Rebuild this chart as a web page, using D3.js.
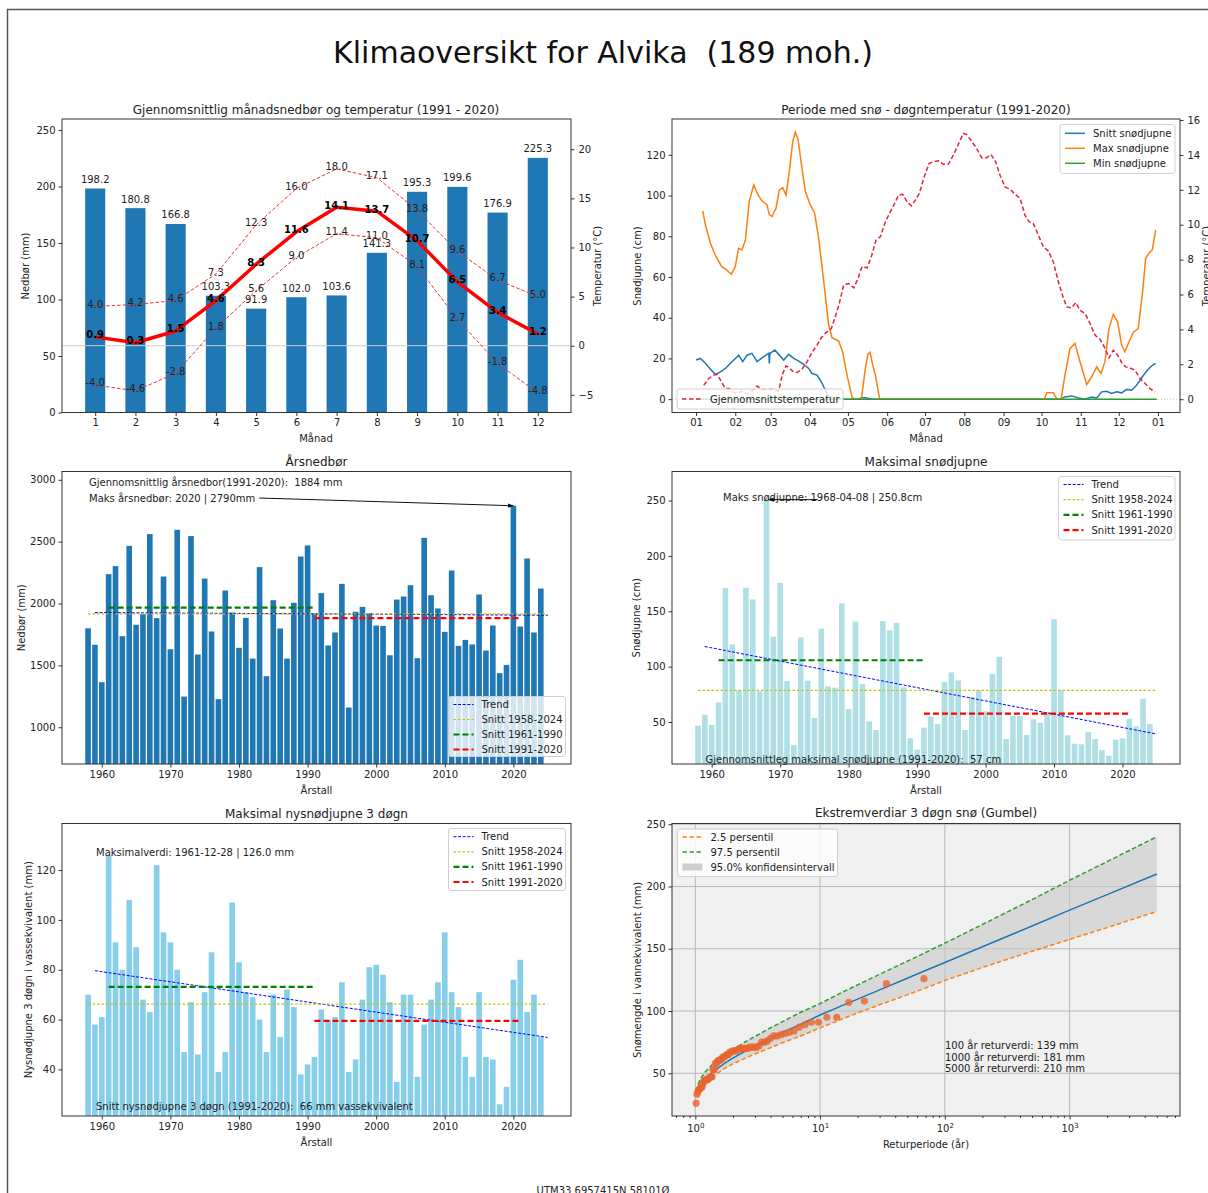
<!DOCTYPE html>
<html>
<head>
<meta charset="utf-8">
<script src="https://cdn.jsdelivr.net/npm/d3@7"></script>
<style>
  body { margin: 0; background: #fff; }
  text { font-family: "DejaVu Sans", sans-serif; white-space: pre; }
</style>
</head>
<body>
<svg id="fig" width="1208" height="1193"></svg>
<script>
// ---- data ----
const months = [1, 2, 3, 4, 5, 6, 7, 8, 9, 10, 11, 12];
const monthPrecip = [198.2, 180.8, 166.8, 103.3, 91.9, 102.0, 103.6, 141.3, 195.3, 199.6, 176.9, 225.3];
const monthTempMean = [0.9, 0.3, 1.5, 4.6, 8.3, 11.6, 14.1, 13.7, 10.7, 6.5, 3.4, 1.2];
const monthTempMax = [4.0, 4.2, 4.6, 7.3, 12.3, 16.0, 18.0, 17.1, 13.8, 9.6, 6.7, 5.0];
const monthTempMin = [-4.0, -4.6, -2.8, 1.8, 5.6, 9.0, 11.4, 11.0, 8.1, 2.7, -1.8, -4.8];

// day of year, value
const snowAvg = [[0,19.2],[3.4,20],[7.4,17.6],[11.3,14.8],[15.2,12.2],[19.2,13.4],[23.2,15.1],[27.1,17.6],[31.1,20],[33.7,21.6],[36.9,18.4],[40.3,21.6],[44.2,22.5],[48.2,18.4],[52.1,20.3],[56.1,22],[57.5,22.5],[57.9,17.5],[58.4,22.5],[62.2,24.1],[65.3,22],[69.3,19.2],[73.2,22],[77.2,20],[81.1,18.7],[85.1,17.1],[89,15.1],[91.6,12.6],[95.6,11.8],[99,8.5],[102.2,4.4],[105.3,1.1],[110,0.3],[118,0],[128,0],[131,0.7],[134,0.7],[139,0],[287.6,0],[291.5,1.1],[296.8,1.6],[302,0.6],[307.3,0],[312.6,1.1],[316.6,0.6],[320.5,3.6],[324.5,3.9],[328.4,2.8],[332.4,3.6],[336.3,3.1],[340.3,4.8],[344.2,4.4],[348.2,6.9],[352.1,10.5],[356.1,13.8],[360,16.4],[363.2,17.6]];
const snowMax = [[5.3,92.5],[7.4,85.6],[11.3,76.6],[15.2,70.8],[20.2,65.1],[24.2,63.5],[27.8,61.3],[31,65.1],[33.6,74.1],[36.3,73.3],[39,78.2],[42,97],[45.6,105.3],[49,100.3],[52.1,97.4],[56.1,95.4],[57.9,90.5],[60,89.7],[63.2,93.8],[65.8,102.8],[68.5,103.9],[71.1,100.3],[73.7,111.8],[76.4,126.6],[78.5,131.2],[80.6,127.4],[83.7,113.5],[86.4,102],[90.3,95.4],[93.7,91.3],[96.9,79],[100.9,57.7],[104.8,36.4],[107.4,30.2],[112.7,28.5],[115.8,23.3],[119.3,11.8],[123.2,1.1],[125.3,0],[130.6,0],[133.8,15.1],[135.8,22],[137.5,23],[139.5,17],[141.7,11.8],[145.1,0],[275.2,0],[277.1,3.1],[282.3,3.1],[285,0],[288.4,0],[291.5,11.8],[295.5,24.9],[299.4,27.4],[303.4,18.4],[308.7,7.2],[312.6,11],[316.6,15.9],[320,12.6],[323.1,18.4],[326.3,34.8],[329.7,41.7],[333.1,38],[336.3,26.6],[338.9,23.3],[342.1,28.2],[345.5,32.8],[349.4,34.8],[352.6,51.2],[355.3,69.2],[357.9,71.7],[360.5,73.3],[363.2,83.1]];
const snowMin = [[0,0],[364,0]];
const dailyTemp = [[6.1,0.8],[10.1,1.19],[14,1.38],[16.7,1.42],[20.1,1.0],[23.2,0.61],[26.4,0.61],[29,0.42],[32.4,0.35],[36.3,0.45],[40,0.3],[44,0.45],[48.2,0.76],[51.6,0.57],[56.1,0.52],[59.5,0.57],[62.7,0.52],[65.3,0.46],[68,1.38],[71.1,1.91],[73.7,1.8],[76.4,1.6],[79.8,1.53],[83.7,1.72],[87.7,2.14],[91.6,2.68],[95.6,3.1],[99,3.52],[102.7,3.82],[106.9,4.05],[110,4.72],[113.2,5.49],[116.6,6.54],[120.6,6.63],[124.6,6.38],[128,6.92],[131.1,7.59],[135.1,7.53],[138.5,8.16],[142.2,9.12],[145.6,9.31],[149.6,10.17],[153.5,10.74],[156.9,11.22],[160.1,11.7],[163.3,11.74],[166.7,11.31],[170.1,11.08],[173.3,11.41],[176.4,11.79],[179.9,12.65],[184,13.5],[187.5,13.61],[191.4,13.67],[195.4,13.46],[199.3,13.46],[203.3,13.99],[207.2,14.6],[211.2,15.23],[213.8,15.18],[217.8,14.79],[221.7,14.37],[225.7,13.84],[229.6,13.84],[233,14.03],[236.7,13.61],[240.2,12.84],[244.1,12.17],[248.1,12.04],[251.5,11.79],[256,11.51],[259.9,10.55],[263.1,10.17],[266.5,10.07],[270.5,9.4],[274.4,8.73],[278.4,8.49],[282.3,7.87],[286.3,6.73],[290.2,5.81],[292.9,5.29],[296.8,5.24],[300,5.54],[303.4,5.1],[307.4,4.91],[311.3,4.34],[315.3,3.67],[319.2,3.44],[323.2,2.91],[326.3,2.37],[329.7,2.81],[333.2,2.52],[336.3,2.1],[339.5,1.85],[342.9,1.79],[346.9,1.66],[350.8,1.19],[354.8,0.9],[358.7,0.61],[362.7,0.42]];

const years = d3.range(1958, 2025);
const annualPrecip = [1800,1666,1364,2237,2302,1736,2466,1828,1914,2561,1882,2218,1631,2596,1248,2545,1588,2202,1774,1227,2105,1927,1642,1884,1555,2294,1413,2027,1798,1555,2006,2380,2469,1919,2084,1661,1766,2159,1159,1933,1973,1922,1822,1819,1582,2032,2057,2148,1558,2531,2067,1960,1771,2267,1658,1706,1669,2073,1620,1822,1437,1504,2790,1814,2364,1766,2121];
const maxSnowDepth = [46.7,56.6,47.3,67.7,170.9,120.1,78.6,171.2,160.7,77.7,250.8,127,175.7,87,29.2,126.4,87.3,53.6,134.2,82.2,81,157.1,61.7,140.8,84.3,50.6,42.8,141.1,132.7,139.6,81.3,35.3,25,44.9,55.1,48.2,86.1,94.8,87.6,42.8,72.5,78.6,59.6,93.3,108.9,34.7,55.7,55.4,38.3,52.4,49.4,59,142.9,78.6,38,30.4,29.9,40.9,34.7,24.7,19.6,34.1,35.3,53,46.1,71,48.2];
const newSnow3d = [70,58,61,126,91,80,108,89,68,63,122,95,91,80,47,67,46,71,87,39,47,107,83,71,69,60,47,70,53,72,65,38,42,45,64,60,61,75,39,44,68,81,82,78,67,35,70,70,37,58,68,75,95,71,65,45,37,71,45,44,26,33,76,84,63,70,53];

const returnPeriods = [1.05, 1.1, 1.2, 1.35, 1.5, 1.75, 2, 2.5, 3, 4, 5, 7, 10, 15, 20, 30, 50, 70, 100, 200, 500, 1000, 2000, 5000];
const gumbelFit  = [35.3, 39.6, 44.9, 50.1, 53.8, 58.5, 62.2, 67.7, 71.9, 78.1, 82.7, 89.4, 96.8, 104.3, 109.6, 117, 126.3, 132.5, 139, 151.6, 168.3, 181, 193.5, 210];
const gumbelLow  = [34, 37.5, 42, 46.5, 50, 54.5, 57.5, 62, 65.5, 70.5, 74.5, 80, 86.5, 93.5, 98.5, 105, 113, 118.5, 124.5, 135, 148, 157.5, 167, 180];
const gumbelHigh = [41, 45.5, 51, 56.5, 60.5, 65.5, 69, 75, 79.5, 86.5, 91.5, 99, 106, 115, 121, 129.5, 140, 147, 154.5, 169.5, 189.5, 205, 220, 240];

// ---- layout ----
const svg = d3.select("#fig");
const FONT = "DejaVu Sans";
const colL = [62, 571], colR = [672, 1180];
const row1 = [412.5, 119], row2 = [764, 471.5], row3 = [1116, 823.5];

svg.append("rect").attr("width", 1208).attr("height", 1193).attr("fill", "#fff");
svg.append("rect").attr("x", 7.5).attr("y", 9.5).attr("width", 1300).attr("height", 1300)
    .attr("fill", "none").attr("stroke", "#555").attr("stroke-width", 1.5);

const defs = svg.append("defs");
defs.append("marker").attr("id", "arrow").attr("viewBox", "0 0 10 10")
    .attr("refX", 9).attr("refY", 5).attr("markerWidth", 6).attr("markerHeight", 6)
    .attr("orient", "auto-start-reverse")
  .append("path").attr("d", "M0,1.5 L10,5 L0,8.5 z").attr("fill", "#111");

function txt(g, x, y, s, o = {}) {
  const t = g.append("text").attr("x", x).attr("y", y)
      .attr("font-size", o.size || 10).attr("fill", o.fill || "#222")
      .attr("text-anchor", o.anchor || "start")
      .attr("dominant-baseline", o.base || "central")
      .attr("xml:space", "preserve")
      .text(s);
  if (o.weight) t.attr("font-weight", o.weight);
  if (o.rotate) t.attr("transform", `rotate(${o.rotate},${x},${y})`);
  return t;
}

function styleAxis(a) {
  a.attr("font-family", FONT).attr("font-size", 10);
  a.select(".domain").remove();
  a.selectAll(".tick line").attr("stroke", "#333");
  a.selectAll(".tick text").attr("fill", "#222");
  return a;
}

function frame(g, cx, cy, bg) {
  g.append("rect").attr("x", cx[0]).attr("y", cy[1]).attr("width", cx[1] - cx[0]).attr("height", cy[0] - cy[1])
      .attr("fill", bg || "none").attr("stroke", "none");
}
function spines(g, cx, cy) {
  g.append("rect").attr("x", cx[0]).attr("y", cy[1]).attr("width", cx[1] - cx[0]).attr("height", cy[0] - cy[1])
      .attr("fill", "none").attr("stroke", "#333").attr("stroke-width", 1);
}

function legend(g, box, items) {
  g.append("rect").attr("x", box.x).attr("y", box.y).attr("width", box.w).attr("height", box.h)
      .attr("rx", 2.5).attr("fill", "#fff").attr("fill-opacity", 0.8).attr("stroke", "#d0d0d0");
  items.forEach((it, i) => {
    const cy = box.y + box.first + i * box.step;
    if (it.patch) {
      g.append("rect").attr("x", box.x + 5).attr("y", cy - 3.5).attr("width", 20).attr("height", 7)
          .attr("fill", it.color).attr("fill-opacity", it.opacity || 1);
    } else {
      g.append("line").attr("x1", box.x + 5).attr("x2", box.x + 25).attr("y1", cy).attr("y2", cy)
          .attr("stroke", it.color).attr("stroke-width", it.width || 1.5)
          .attr("stroke-dasharray", it.dash || null);
    }
    txt(g, box.x + 33, cy, it.label);
  });
}

// figure title
txt(svg, 603, 52, "Klimaoversikt for Alvika  (189 moh.)", { size: 30, anchor: "middle", fill: "#111" });

// ---- panel 1: monthly precipitation and temperature ----
{
  const g = svg.append("g");
  const x = d3.scaleLinear().domain([0.175, 12.825]).range(colL);
  const y = d3.scaleLinear().domain([0, 259.7]).range(row1);
  const t = d3.scaleLinear().domain([-6.8, 23.08]).range(row1);
  const bw = x(0.5) - x(0);

  g.selectAll("rect.bar").data(months).join("rect").attr("class", "bar")
      .attr("x", m => x(m) - bw / 2).attr("width", bw)
      .attr("y", (m, i) => y(monthPrecip[i])).attr("height", (m, i) => y(0) - y(monthPrecip[i]))
      .attr("fill", "#1f77b4");
  months.forEach((m, i) => txt(g, x(m), y(monthPrecip[i]) - 9, monthPrecip[i].toFixed(1), { anchor: "middle" }));

  g.append("line").attr("x1", colL[0]).attr("x2", colL[1]).attr("y1", t(0)).attr("y2", t(0))
      .attr("stroke", "#cfcfcf").attr("stroke-width", 1);

  const line = vals => d3.line().x((m, i) => x(m)).y((m, i) => t(vals[i]))(months);
  [monthTempMax, monthTempMin].forEach(vals => {
    g.append("path").attr("d", line(vals)).attr("fill", "none").attr("stroke", "#f03030")
        .attr("stroke-width", 1).attr("stroke-dasharray", "3.5,2");
  });
  g.append("path").attr("d", line(monthTempMean)).attr("fill", "none").attr("stroke", "#ff0000")
      .attr("stroke-width", 3.5).attr("stroke-linejoin", "round");

  months.forEach((m, i) => {
    txt(g, x(m), t(monthTempMax[i]) - 2, monthTempMax[i].toFixed(1), { anchor: "middle" });
    txt(g, x(m), t(monthTempMin[i]) - 2, monthTempMin[i].toFixed(1), { anchor: "middle" });
    txt(g, x(m), t(monthTempMean[i]) - 2, monthTempMean[i].toFixed(1), { anchor: "middle", weight: "bold", fill: "#000" });
  });

  spines(g, colL, row1);
  styleAxis(g.append("g").attr("transform", `translate(0,${row1[0]})`)
      .call(d3.axisBottom(x).tickValues(months).tickSize(3.5).tickPadding(3)));
  styleAxis(g.append("g").attr("transform", `translate(${colL[0]},0)`)
      .call(d3.axisLeft(y).tickValues([0, 50, 100, 150, 200, 250]).tickSize(3.5).tickPadding(3)));
  styleAxis(g.append("g").attr("transform", `translate(${colL[1]},0)`)
      .call(d3.axisRight(t).tickValues([-5, 0, 5, 10, 15, 20]).tickSize(3.5).tickPadding(4)));

  txt(g, 316, 110, "Gjennomsnittlig månadsnedbør og temperatur (1991 - 2020)", { size: 12, anchor: "middle" });
  txt(g, 316, 438, "Månad", { anchor: "middle" });
  txt(g, 25, 266, "Nedbør (mm)", { anchor: "middle", rotate: -90 });
  txt(g, 597, 266, "Temperatur (°C)", { anchor: "middle", rotate: -90 });
}

// ---- panel 2: snow period and daily temperature ----
{
  const g = svg.append("g");
  const jan1 = Date.UTC(2023, 0, 1);
  const dayDate = d => new Date(jan1 + d * 864e5);
  const x = d3.scaleUtc().domain([dayDate(-19), dayDate(382.4)]).range(colR);
  const y = d3.scaleLinear().domain([-6.55, 137.6]).range(row1);
  const t = d3.scaleLinear().domain([-0.762, 16.06]).range(row1);

  g.append("line").attr("x1", colR[0]).attr("x2", colR[1]).attr("y1", t(0)).attr("y2", t(0))
      .attr("stroke", "#c0c0c0").attr("stroke-dasharray", "1,2");

  const series = [
    { data: snowAvg, color: "#1f77b4" },
    { data: snowMax, color: "#ff7f0e" },
    { data: snowMin, color: "#2ca02c" }
  ];
  series.forEach(s => {
    g.append("path").attr("d", d3.line().x(d => x(dayDate(d[0]))).y(d => y(d[1]))(s.data))
        .attr("fill", "none").attr("stroke", s.color).attr("stroke-width", 1.5);
  });
  g.append("path").attr("d", d3.line().x(d => x(dayDate(d[0]))).y(d => t(d[1]))(dailyTemp))
      .attr("fill", "none").attr("stroke", "#e8203a").attr("stroke-width", 1.5).attr("stroke-dasharray", "4.5,2.5");

  spines(g, colR, row1);
  const ticks = d3.utcMonth.range(new Date(jan1), dayDate(366));
  styleAxis(g.append("g").attr("transform", `translate(0,${row1[0]})`)
      .call(d3.axisBottom(x).tickValues(ticks).tickFormat(d3.utcFormat("%m")).tickSize(3.5).tickPadding(3)));
  styleAxis(g.append("g").attr("transform", `translate(${colR[0]},0)`)
      .call(d3.axisLeft(y).tickValues([0, 20, 40, 60, 80, 100, 120]).tickSize(3.5).tickPadding(3)));
  styleAxis(g.append("g").attr("transform", `translate(${colR[1]},0)`)
      .call(d3.axisRight(t).tickValues([0, 2, 4, 6, 8, 10, 12, 14, 16]).tickSize(3.5).tickPadding(4)));

  legend(g, { x: 1060, y: 124.5, w: 115, h: 49, first: 8.8, step: 15 }, [
    { label: "Snitt snødjupne", color: "#1f77b4" },
    { label: "Max snødjupne", color: "#ff7f0e" },
    { label: "Min snødjupne", color: "#2ca02c" }
  ]);
  legend(g, { x: 677, y: 389, w: 166, h: 20, first: 10, step: 15 }, [
    { label: "Gjennomsnittstemperatur", color: "#e8203a", dash: "4.5,2.5" }
  ]);

  txt(g, 926, 110, "Periode med snø - døgntemperatur (1991-2020)", { size: 12, anchor: "middle" });
  txt(g, 926, 438, "Månad", { anchor: "middle" });
  txt(g, 637, 266, "Snødjupne (cm)", { anchor: "middle", rotate: -90 });
  txt(g, 1206, 266, "Temperatur (°C)", { anchor: "middle", rotate: -90 });
}

// ---- shared yearly bar panel ----
function linfit(xs, ys) {
  const mx = d3.mean(xs), my = d3.mean(ys);
  const b = d3.sum(xs, (v, i) => (v - mx) * (ys[i] - my)) / d3.sum(xs, v => (v - mx) ** 2);
  return v => my + b * (v - mx);
}
const periodMean = (vals, a, b) => d3.mean(years.map((yr, i) => (yr >= a && yr <= b ? vals[i] : null)).filter(v => v != null));

const refLines = [
  { label: "Trend", color: "blue", width: 1, dash: "3,1.6" },
  { label: "Snitt 1958-2024", color: "#c4c400", width: 1.2, dash: "2.5,2" },
  { label: "Snitt 1961-1990", color: "#008000", width: 2.2, dash: "6,3" },
  { label: "Snitt 1991-2020", color: "#ff0000", width: 2.2, dash: "6,3" }
];

function yearPanel(cfg) {
  const g = svg.append("g");
  const x = d3.scaleLinear().domain([1954.2, 2028.4]).range(cfg.cx);
  const y = d3.scaleLinear().domain(cfg.yDomain).range(cfg.cy);
  const bw = x(0.82) - x(0);

  g.selectAll("rect.bar").data(years).join("rect").attr("class", "bar")
      .attr("x", yr => x(yr) - bw / 2).attr("width", bw)
      .attr("y", (yr, i) => y(cfg.values[i])).attr("height", (yr, i) => cfg.cy[0] - y(cfg.values[i]))
      .attr("fill", cfg.color);

  const fit = linfit(years, cfg.values);
  const segs = [
    [[1959, fit(1958)], [2025, fit(2024)]],
    [[1958, periodMean(cfg.values, 1958, 2024)], [2025, periodMean(cfg.values, 1958, 2024)]],
    [[1961, periodMean(cfg.values, 1961, 1990)], [1991, periodMean(cfg.values, 1961, 1990)]],
    [[1991, periodMean(cfg.values, 1991, 2020)], [2021, periodMean(cfg.values, 1991, 2020)]]
  ];
  segs.forEach((s, i) => {
    const st = refLines[i];
    g.append("line").attr("x1", x(s[0][0])).attr("y1", y(s[0][1])).attr("x2", x(s[1][0])).attr("y2", y(s[1][1]))
        .attr("stroke", st.color).attr("stroke-width", st.width).attr("stroke-dasharray", st.dash);
  });

  spines(g, cfg.cx, cfg.cy);
  styleAxis(g.append("g").attr("transform", `translate(0,${cfg.cy[0]})`)
      .call(d3.axisBottom(x).tickValues(d3.range(1960, 2021, 10)).tickFormat(d3.format("d")).tickSize(3.5).tickPadding(3)));
  styleAxis(g.append("g").attr("transform", `translate(${cfg.cx[0]},0)`)
      .call(d3.axisLeft(y).tickValues(cfg.yTicks).tickFormat(d3.format("d")).tickSize(3.5).tickPadding(3)));

  const mid = (cfg.cx[0] + cfg.cx[1]) / 2;
  txt(g, mid, cfg.cy[1] - 10, cfg.title, { size: 12, anchor: "middle" });
  txt(g, mid, cfg.cy[0] + 26, "Årstall", { anchor: "middle" });
  txt(g, cfg.ylabX, (cfg.cy[0] + cfg.cy[1]) / 2, cfg.ylabel, { anchor: "middle", rotate: -90 });
  legend(g, cfg.legendBox, refLines);
  return { g, x, y };
}

// ---- panel 3: annual precipitation ----
{
  const p = yearPanel({
    values: annualPrecip, color: "#1f77b4", cx: colL, cy: row2,
    yDomain: [703, 3067], yTicks: [1000, 1500, 2000, 2500, 3000],
    title: "Årsnedbør", ylabel: "Nedbør (mm)", ylabX: 21,
    legendBox: { x: 448.5, y: 696.5, w: 117, h: 60, first: 8, step: 15 }
  });
  txt(p.g, 89, 482, "Gjennomsnittlig årsnedbor(1991-2020):  1884 mm");
  const lab = txt(p.g, 89, 498, "Maks årsnedbør: 2020 | 2790mm");
  const x0 = 89 + lab.node().getComputedTextLength() + 4;
  p.g.append("line").attr("x1", x0).attr("y1", 498).attr("x2", p.x(2020)).attr("y2", p.y(2790))
      .attr("stroke", "#111").attr("stroke-width", 1).attr("marker-end", "url(#arrow)");
}

// ---- panel 4: max snow depth ----
{
  const p = yearPanel({
    values: maxSnowDepth, color: "#b0e0e6", cx: colR, cy: row2,
    yDomain: [12.1, 276.2], yTicks: [50, 100, 150, 200, 250],
    title: "Maksimal snødjupne", ylabel: "Snødjupne (cm)", ylabX: 636,
    legendBox: { x: 1058.5, y: 476.5, w: 116.5, h: 63.5, first: 8, step: 15.2 }
  });
  txt(p.g, 723, 497.5, "Maks snødjupne: 1968-04-08 | 250.8cm", { fill: "#222" });
  p.g.append("line").attr("x1", p.x(1975.5)).attr("y1", p.y(250.8)).attr("x2", p.x(1968.3)).attr("y2", p.y(250.8))
      .attr("stroke", "#111").attr("stroke-width", 1).attr("marker-end", "url(#arrow)");
  txt(p.g, 705.5, 759, "Gjennomsnittleg maksimal snødjupne (1991-2020):  57 cm");
}

// ---- panel 5: max new snow 3 days ----
{
  const p = yearPanel({
    values: newSnow3d, color: "#87ceeb", cx: colL, cy: row3,
    yDomain: [21.3, 138.7], yTicks: [40, 60, 80, 100, 120],
    title: "Maksimal nysnødjupne 3 døgn", ylabel: "Nysnødjupne 3 døgn i vassekvivalent (mm)", ylabX: 28,
    legendBox: { x: 448.5, y: 828.5, w: 117, h: 62, first: 8.2, step: 15.1 }
  });
  txt(p.g, 96, 852, "Maksimalverdi: 1961-12-28 | 126.0 mm");
  txt(p.g, 96, 1106, "Snitt nysnødjupne 3 døgn (1991-2020):  66 mm vassekvivalent");
}

// ---- panel 6: Gumbel extremes ----
{
  const g = svg.append("g");
  const x = d3.scaleLog().domain([Math.pow(10, -0.187), Math.pow(10, 3.885)]).range(colR);
  const y = d3.scaleLinear().domain([15.7, 250.6]).range(row3);
  frame(g, colR, row3, "#f0f0f0");

  const majors = [1, 10, 100, 1000];
  const yt = [50, 100, 150, 200, 250];
  g.selectAll("line.vg").data(majors).join("line").attr("class", "vg")
      .attr("x1", d => x(d)).attr("x2", d => x(d)).attr("y1", row3[1]).attr("y2", row3[0])
      .attr("stroke", "#b8b8b8").attr("stroke-width", 1);
  g.selectAll("line.hg").data(yt).join("line").attr("class", "hg")
      .attr("x1", colR[0]).attr("x2", colR[1]).attr("y1", d => y(d)).attr("y2", d => y(d))
      .attr("stroke", "#b8b8b8").attr("stroke-width", 1);

  g.append("path").attr("d", d3.area().x((T, i) => x(T)).y0((T, i) => y(gumbelLow[i])).y1((T, i) => y(gumbelHigh[i]))(returnPeriods))
      .attr("fill", "#c8c8c8").attr("fill-opacity", 0.6);
  const ln = vals => d3.line().x((T, i) => x(T)).y((T, i) => y(vals[i]))(returnPeriods);
  g.append("path").attr("d", ln(gumbelFit)).attr("fill", "none").attr("stroke", "#1f77b4").attr("stroke-width", 1.5);
  g.append("path").attr("d", ln(gumbelLow)).attr("fill", "none").attr("stroke", "#ff7f0e").attr("stroke-width", 1.5).attr("stroke-dasharray", "4.5,2.5");
  g.append("path").attr("d", ln(gumbelHigh)).attr("fill", "none").attr("stroke", "#2ca02c").attr("stroke-width", 1.5).attr("stroke-dasharray", "4.5,2.5");

  // observed 3-day maxima with plotting position T = (n+1)/rank
  const sorted = newSnow3d.slice().sort((a, b) => b - a);
  const n = sorted.length;
  g.selectAll("circle").data(sorted).join("circle")
      .attr("cx", (v, i) => x((n + 1) / (i + 1))).attr("cy", v => y(v)).attr("r", 3.6)
      .attr("fill", "#e8652f").attr("fill-opacity", 0.8);

  spines(g, colR, row3);
  const xa = styleAxis(g.append("g").attr("transform", `translate(0,${row3[0]})`)
      .call(d3.axisBottom(x).tickValues(majors).tickFormat(() => "").tickSize(3.5)));
  xa.selectAll(".tick").each(function (d) {
    const tx = d3.select(this).append("text").attr("y", 16).attr("text-anchor", "middle").attr("fill", "#222").attr("font-size", 10);
    tx.append("tspan").text("10");
    tx.append("tspan").attr("dy", -4.5).attr("font-size", 7).text(Math.round(Math.log10(d)));
  });
  const minors = [];
  for (let k = -1; k <= 3; k++) for (let m = 2; m <= 9; m++) {
    const v = m * Math.pow(10, k);
    if (v > x.domain()[0] && v < x.domain()[1]) minors.push(v);
  }
  styleAxis(g.append("g").attr("transform", `translate(0,${row3[0]})`)
      .call(d3.axisBottom(x).tickValues(minors).tickFormat(() => "").tickSize(2)));
  styleAxis(g.append("g").attr("transform", `translate(${colR[0]},0)`)
      .call(d3.axisLeft(y).tickValues(yt).tickSize(3.5).tickPadding(3)));

  legend(g, { x: 677.5, y: 829, w: 160, h: 47.5, first: 8, step: 15 }, [
    { label: "2.5 persentil", color: "#ff7f0e", dash: "4.5,2.5" },
    { label: "97.5 persentil", color: "#2ca02c", dash: "4.5,2.5" },
    { label: "95.0% konfidensintervall", patch: true, color: "#c8c8c8", opacity: 0.9 }
  ]);
  txt(g, 945, 1045.7, "100 år returverdi: 139 mm");
  txt(g, 945, 1057, "1000 år returverdi: 181 mm");
  txt(g, 945, 1068.3, "5000 år returverdi: 210 mm");

  txt(g, 926, 813, "Ekstremverdiar 3 døgn snø (Gumbel)", { size: 12, anchor: "middle" });
  txt(g, 926, 1144, "Returperiode (år)", { anchor: "middle" });
  txt(g, 637, 970, "Snømengde i vannekvivalent (mm)", { anchor: "middle", rotate: -90 });
}

txt(svg, 603, 1190, "UTM33 6957415N 58101Ø", { size: 10, anchor: "middle" });
</script>
</body>
</html>
